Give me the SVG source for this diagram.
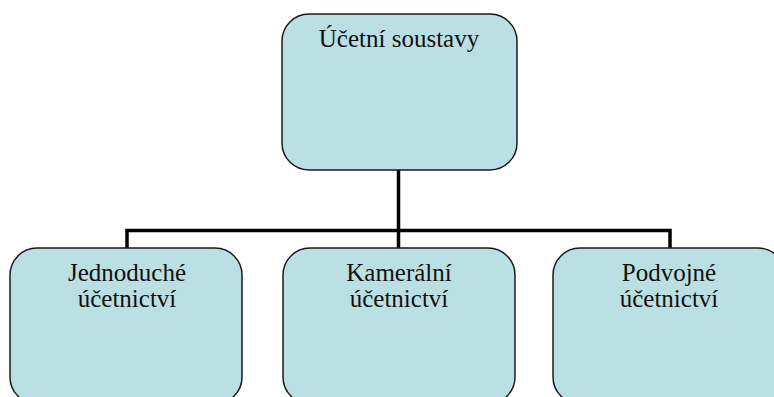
<svg xmlns="http://www.w3.org/2000/svg" width="774" height="397" viewBox="0 0 774 397">
<style>
.box{fill:#BBE0E3;stroke:#1a1a1a;stroke-width:1.5}
.lbl{font-family:'Liberation Serif','Times New Roman',serif;font-size:25px;fill:#111;text-anchor:middle}
.conn{fill:none;stroke:#000;stroke-width:3.5}
</style>
<rect width="774" height="397" fill="#fff"/>
<g id="connectors">
<path class="conn" d="M398.5 170 V230.5"/>
<path class="conn" d="M127 248 V230.5 H670 V248"/>
<path class="conn" d="M398.5 230.5 V248"/>
</g>
<g id="n-root">
<rect class="box" x="282" y="14" width="235" height="156" rx="27" ry="27"/>
<text class="lbl" x="399" y="47">Účetní soustavy</text>
</g>
<g id="n-jednoduche">
<rect class="box" x="10" y="248" width="232" height="156" rx="27" ry="27"/>
<text class="lbl" x="127" y="281">Jednoduché</text>
<text class="lbl" x="127" y="307">účetnictví</text>
</g>
<g id="n-kameralni">
<rect class="box" x="283" y="248" width="232" height="156" rx="27" ry="27"/>
<text class="lbl" x="399" y="281">Kamerální</text>
<text class="lbl" x="399" y="307">účetnictví</text>
</g>
<g id="n-podvojne">
<rect class="box" x="553" y="248" width="232" height="156" rx="27" ry="27"/>
<text class="lbl" x="669" y="281">Podvojné</text>
<text class="lbl" x="669" y="307">účetnictví</text>
</g>
</svg>
